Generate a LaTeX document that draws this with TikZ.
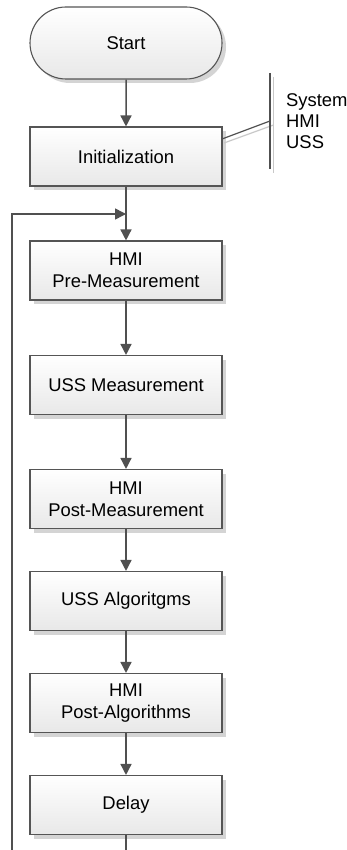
\documentclass[tikz,border=0pt]{standalone}
\usepackage{fontspec}
\setmainfont{Liberation Sans}
\usetikzlibrary{arrows.meta,shadows,shapes.misc}
\definecolor{edgegray}{HTML}{505050}
\definecolor{boxborder}{HTML}{555555}
\definecolor{shadowgray}{HTML}{D4D4D4}
\definecolor{lightline}{HTML}{C8C8C8}
\tikzset{
  box/.style={draw=boxborder, line width=1.1pt, top color=white, bottom color=black!9,
    minimum width=192pt, minimum height=59pt, inner sep=0pt, align=center,
    font=\fontsize{18.4}{22}\selectfont,
    drop shadow={shadow xshift=4pt, shadow yshift=-4pt, fill=shadowgray, opacity=1}},
  term/.style={box, rounded rectangle, minimum height=72pt},
  flow/.style={draw=edgegray, line width=1.5pt, -{Triangle[length=11pt,width=11pt]}},
  plain/.style={draw=edgegray, line width=1.5pt},
  note/.style={font=\fontsize{18.4}{21}\selectfont, align=left, inner sep=0pt, anchor=west}
}
\begin{document}
\begin{tikzpicture}[x=1pt,y=-1pt]
\useasboundingbox (0,0) rectangle (346,850);
\node[term] (start) at (126,43) {Start};
\node[box] (init) at (126,156.5) {Initialization};
\node[box] (pre) at (126,270.5) {HMI\\Pre-Measurement};
\node[box] (ussm) at (126,385) {USS Measurement};
\node[box] (postm) at (126,499) {HMI\\Post-Measurement};
\node[box] (ussa) at (126,601) {USS Algoritgms};
\node[box] (posta) at (126,703) {HMI\\Post-Algorithms};
\node[box] (delay) at (126,805) {Delay};

\coordinate (join) at (126,214);
\coordinate (loopbot) at (12,850);
\coordinate (loopcorner) at (12,214);
\coordinate (delayend) at (126,850);

\draw[flow] (start) -- (init);
\draw[flow] (init) -- (pre);
\draw[flow] (pre) -- (ussm);
\draw[flow] (ussm) -- (postm);
\draw[flow] (postm) -- (ussa);
\draw[flow] (ussa) -- (posta);
\draw[flow] (posta) -- (delay);
\draw[plain] (delay) -- (delayend);
\draw[flow] (loopbot) -- (loopcorner) -- (join);

% annotation
\coordinate (brtop) at (270,73);
\coordinate (brbot) at (270,169);
\coordinate (brtop2) at (273.5,77);
\coordinate (brbot2) at (273.5,173);
\coordinate (brmid) at (270,121);
\coordinate (brmid2) at (273.5,125);
\coordinate (initr) at (222,139);
\coordinate (initr2) at (224,143);
\draw[lightline, line width=1.2pt] (brtop2) -- (brbot2);
\draw[lightline, line width=1.2pt] (initr2) -- (brmid2);
\draw[edgegray, line width=1.2pt] (brtop) -- (brbot);
\draw[edgegray, line width=1.2pt] (initr) -- (brmid);
\node[note] (notes) at (286,121) {System\\HMI\\USS};
\end{tikzpicture}
\end{document}
